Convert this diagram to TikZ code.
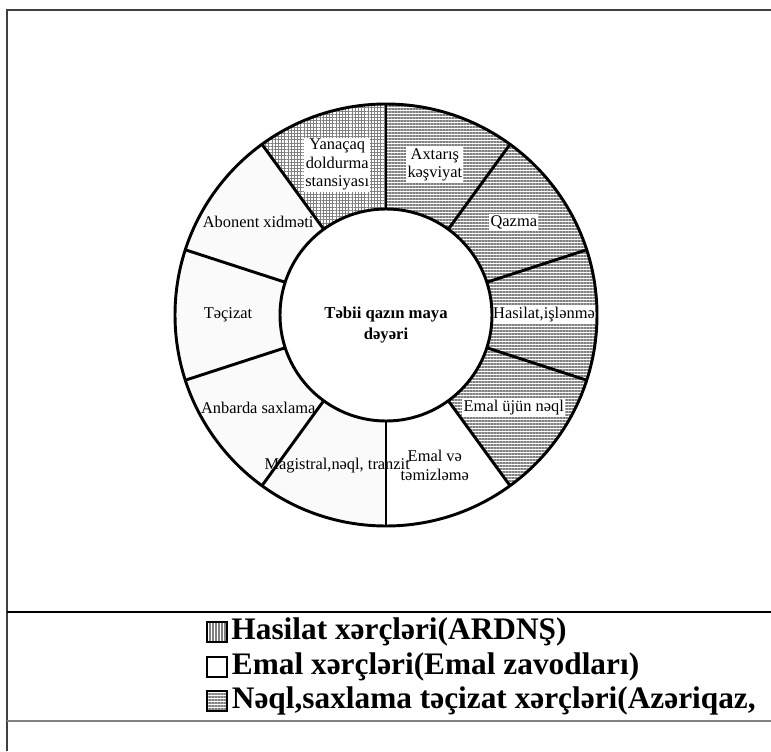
\documentclass[tikz,border=0pt]{standalone}
\usepackage{fontspec}
\setmainfont{Liberation Serif}
\usetikzlibrary{patterns.meta,positioning}

\tikzset{
	hlines/.style={pattern={Lines[distance=2.25pt,line width=0.8pt]},pattern color=gray},
	vlines/.style={pattern={Lines[angle=90,distance=2.25pt,line width=0.8pt]},pattern color=gray},
	gridded/.style={preaction={pattern={Lines[distance=2.4pt,line width=0.5pt]},pattern color=gray},
		pattern={Lines[angle=90,distance=2.4pt,line width=0.5pt]},pattern color=gray},
	speckle/.style={pattern={Dots[distance=1.5pt,radius=0.3pt]},pattern color=gray!45},
	plain/.style={fill=white},
	seglabel/.style={font=\fontsize{12.3}{14}\selectfont,align=center,inner sep=1pt},
	boxed/.style={seglabel,fill=white},
	legbox/.style={draw,line width=1.5pt,minimum size=14.5pt,inner sep=0pt},
	legtext/.style={font=\fontsize{23.5}{26}\selectfont\bfseries,inner sep=0pt,anchor=west}
}

\begin{document}
\begin{tikzpicture}[x=0.75pt,y=0.75pt]
		\clip (0,0) rectangle (771,751);
		\def\ro{211};
		\def\ri{106};
		\def\rm{158};
		\coordinate (C) at (386,436);
		\begin{scope}[shift={(C)}]
			\foreach \a/\sty in {54/hlines,18/hlines,-18/hlines,-54/hlines,-90/plain,-126/speckle,-162/speckle,162/speckle,126/speckle,90/gridded}
				\path[\sty] (\a:\ro) arc[start angle=\a,delta angle=36,radius=\ro] -- (\a+36:\ri) arc[start angle=\a+36,delta angle=-36,radius=\ri] -- cycle;
			\foreach \a/\lsty/\txt [count=\i] in {
				72/boxed/{Axtarış\\kəşviyat},
				36/boxed/Qazma,
				0/boxed/{Hasilat,işlənmə},
				-36/boxed/{Emal üjün nəql},
				-72/seglabel/{Emal və\\təmizləmə},
				-108/seglabel/{Magistral,nəql, tranzit},
				-144/seglabel/{Anbarda saxlama},
				180/seglabel/Təçizat,
				144/seglabel/{Abonent xidməti},
				108/boxed/{Yanaçaq\\doldurma\\stansiyası}}
				\node[\lsty] (seg\i) at (\a:\rm) {\txt};
			\draw[line width=2.2pt,fill=white] (0,0) circle [radius=\ri];
			\draw[line width=2.2pt] (0,0) circle [radius=\ro];
			\foreach \a in {90,54,18,-18,-54,-90,-126,-162,162,126}
				\draw[line width=2.2pt] (\a:\ri) -- (\a:\ro);
		\end{scope}
		\node[font=\fontsize{12.5}{16}\selectfont\bfseries,align=center] (title) at (386,426) {Təbii qazın maya\\dəyəri};
		\draw[black!75,line width=1.5pt] (7,0) -- (7,741) -- (771,741);
		\draw[line width=0.8pt] (7,139) -- (771,139);
		\draw[gray,line width=1.5pt] (7,30) -- (771,30);
		\node[legbox,vlines] (k1) at (217,119) {};
		\node[legbox,fill=white] (k2) at (217,84) {};
		\node[legbox,hlines] (k3) at (217,50) {};
		\node[legtext,right=3pt of k1] (t1) {Hasilat xərçləri(ARDNŞ)};
		\node[legtext,right=3pt of k2] (t2) {Emal xərçləri(Emal zavodları)};
		\node[legtext,right=3pt of k3] (t3) {Nəql,saxlama təçizat xərçləri(Azəriqaz,};
	\end{tikzpicture}
\end{document}
